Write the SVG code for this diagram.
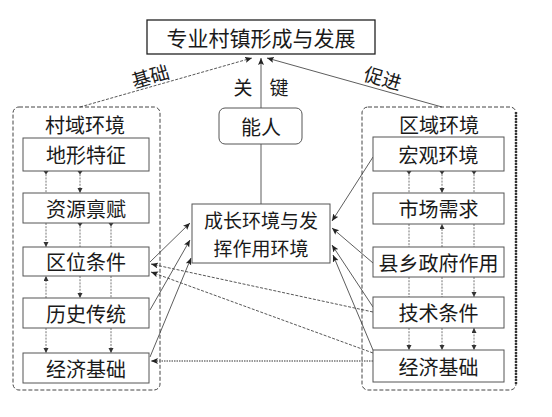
<svg xmlns="http://www.w3.org/2000/svg" width="552" height="417" viewBox="0 0 552 417">
<style>
text{font-family:"Noto Sans CJK SC","Noto Sans CJK JP",sans-serif;fill:#1a1a1a;text-anchor:middle;dominant-baseline:central}
.t{font-size:20px}
.box{fill:#fff;stroke:#555;stroke-width:1}
.reg{fill:none;stroke:#444;stroke-width:1;stroke-dasharray:4 2}
.sl{fill:none;stroke:#333;stroke-width:0.8}
.dl{fill:none;stroke:#444;stroke-width:0.9;stroke-dasharray:3 1.5}
.vc{fill:none;stroke:#666;stroke-width:0.9;stroke-dasharray:2 1.2}
</style>
<defs>
<marker id="ah" markerUnits="userSpaceOnUse" markerWidth="9" markerHeight="7" refX="7" refY="3" orient="auto"><path d="M0,0 L7,3 L0,6 L1.5,3 z" fill="#222"/></marker>
<marker id="as" markerUnits="userSpaceOnUse" markerWidth="9" markerHeight="7" refX="5" refY="2.5" orient="auto-start-reverse"><path d="M0,0 L5,2.5 L0,5 z" fill="#333"/></marker>
<marker id="tl" markerUnits="userSpaceOnUse" markerWidth="6" markerHeight="6" refX="0" refY="2.5" orient="auto"><path d="M0,0 L3.5,2.5 L0,5 z" fill="#333"/></marker>
</defs>

<g id="regions">
<rect class="reg" x="13" y="107" width="147" height="283" rx="6"/>
<rect class="reg" x="362" y="107" width="154" height="283" rx="6"/>
<line x1="516" y1="112" x2="516" y2="385" stroke="#333" stroke-width="2.4" stroke-dasharray="2 1"/>
<text class="t" x="85" y="124">村域环境</text>
<text class="t" x="439" y="124">区域环境</text>
</g>

<g id="connectors">
<line class="dl" x1="80" y1="107" x2="252" y2="58" stroke-dasharray="3 1.2" marker-end="url(#ah)"/>
<line class="sl" x1="261" y1="108" x2="261" y2="58" stroke="#666" marker-end="url(#ah)"/>
<line class="sl" x1="442" y1="107" x2="267" y2="58" marker-end="url(#ah)"/>
<line class="sl" x1="261" y1="204" x2="261" y2="144" stroke="#777"/>
<line class="sl" x1="150" y1="262" x2="190" y2="223" marker-end="url(#ah)"/>
<line class="sl" x1="150" y1="310" x2="190" y2="240" marker-end="url(#ah)"/>
<line class="sl" x1="150" y1="357" x2="191" y2="258" marker-end="url(#ah)"/>
<line class="sl" x1="373" y1="157" x2="332" y2="221" marker-end="url(#ah)"/>
<line class="sl" x1="373" y1="263" x2="332" y2="228" marker-end="url(#ah)"/>
<line class="sl" x1="373" y1="307" x2="332" y2="245" marker-end="url(#ah)"/>
<line class="sl" x1="373" y1="350" x2="333" y2="255" marker-end="url(#ah)"/>
<line class="dl" x1="373" y1="312" x2="151" y2="264" marker-end="url(#ah)"/>
<line class="dl" x1="373" y1="353" x2="151" y2="272" marker-end="url(#ah)"/>
<line x1="373" y1="361" x2="151" y2="361" stroke="#777" stroke-width="1.4" stroke-dasharray="1.5 1" marker-end="url(#ah)"/>
<line class="vc" x1="46" y1="171" x2="46" y2="193" marker-start="url(#tl)"/>
<line class="vc" x1="46" y1="223" x2="46" y2="247" marker-end="url(#as)"/>
<line class="vc" x1="46" y1="298" x2="46" y2="276" marker-end="url(#as)"/>
<line class="vc" x1="46" y1="328" x2="46" y2="353" marker-end="url(#as)"/>
<line class="vc" x1="80" y1="171" x2="80" y2="193" marker-start="url(#tl)" marker-end="url(#as)"/>
<line class="vc" x1="80" y1="223" x2="80" y2="247" marker-start="url(#tl)"/>
<line class="vc" x1="80" y1="276" x2="80" y2="298" marker-end="url(#as)"/>
<line class="vc" x1="111" y1="223" x2="111" y2="247" marker-start="url(#tl)"/>
<line class="vc" x1="111" y1="276" x2="111" y2="298"/>
<line class="vc" x1="111" y1="328" x2="111" y2="353" marker-end="url(#as)"/>
<line class="vc" x1="409" y1="171" x2="409" y2="193" marker-start="url(#tl)"/>
<line class="vc" x1="442" y1="171" x2="442" y2="193" marker-start="url(#tl)" marker-end="url(#as)"/>
<line class="vc" x1="474" y1="171" x2="474" y2="193" marker-start="url(#tl)"/>
<line class="vc" x1="409" y1="224" x2="409" y2="247"/>
<line class="vc" x1="442" y1="247" x2="442" y2="224" marker-end="url(#as)"/>
<line class="vc" x1="474" y1="224" x2="474" y2="247"/>
<line class="vc" x1="409" y1="277" x2="409" y2="297"/>
<line class="vc" x1="442" y1="277" x2="442" y2="297"/>
<line class="vc" x1="474" y1="277" x2="474" y2="297" marker-end="url(#as)"/>
<line class="vc" x1="409" y1="328" x2="409" y2="350" marker-end="url(#as)"/>
<line class="vc" x1="442" y1="328" x2="442" y2="350" marker-end="url(#as)"/>
<line class="vc" x1="474" y1="328" x2="474" y2="350" marker-start="url(#as)" marker-end="url(#as)"/>
</g>

<g id="labels">
<text x="150" y="75" font-size="19" transform="rotate(-16 150 75)">基础</text>
<text x="383" y="77" font-size="19" transform="rotate(16 383 77)">促进</text>
<text x="243" y="86" font-size="19">关</text>
<text x="279" y="86" font-size="19">键</text>
</g>

<g id="top"><rect x="147" y="20" width="228" height="34" fill="#fff" stroke="#222" stroke-width="1.3"/><text x="261" y="37" font-size="21">专业村镇形成与发展</text></g>
<g id="nengren"><rect class="box" x="219" y="108" width="83" height="36" rx="6"/><text class="t" x="261" y="126">能人</text></g>
<g id="center"><rect class="box" x="192" y="204" width="138" height="59"/><text x="261" y="219.5" font-size="19">成长环境与发</text><text x="261" y="247.5" font-size="19">挥作用环境</text></g>

<g id="l1"><rect class="box" x="23" y="138" width="126" height="33"/><text class="t" x="86" y="154.5">地形特征</text></g>
<g id="l2"><rect class="box" x="23" y="193" width="126" height="30"/><text class="t" x="86" y="208">资源禀赋</text></g>
<g id="l3"><rect class="box" x="23" y="247" width="126" height="29"/><text class="t" x="86" y="261.5">区位条件</text></g>
<g id="l4"><rect class="box" x="23" y="298" width="126" height="30"/><text class="t" x="86" y="313">历史传统</text></g>
<g id="l5"><rect class="box" x="23" y="353" width="126" height="30"/><text class="t" x="86" y="368">经济基础</text></g>

<g id="r1"><rect class="box" x="373" y="137" width="131" height="34"/><text class="t" x="438.5" y="154">宏观环境</text></g>
<g id="r2"><rect class="box" x="373" y="193" width="131" height="31"/><text class="t" x="438.5" y="208.5">市场需求</text></g>
<g id="r3"><rect class="box" x="373" y="247" width="131" height="30"/><text class="t" x="438.5" y="262">县乡政府作用</text></g>
<g id="r4"><rect class="box" x="373" y="297" width="131" height="31"/><text class="t" x="438.5" y="312.5">技术条件</text></g>
<g id="r5"><rect class="box" x="373" y="350" width="131" height="32"/><text class="t" x="438.5" y="366">经济基础</text></g>
</svg>
